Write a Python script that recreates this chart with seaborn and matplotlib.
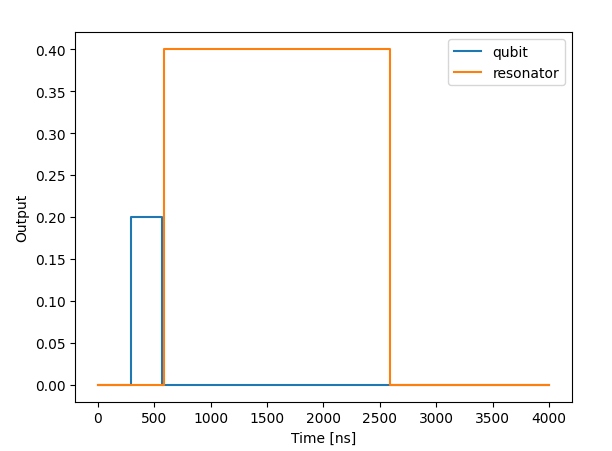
import matplotlib
matplotlib.use('Agg')
import matplotlib.pyplot as plt
import seaborn as sns
import pandas as pd

# step waveforms (time in ns, value held until next time)
qubit_t = [0, 295, 565, 4000]
qubit_v = [0.0, 0.2, 0.0, 0.0]
res_t = [0, 590, 2590, 4000]
res_v = [0.0, 0.4, 0.0, 0.0]

df = pd.concat([
    pd.DataFrame({'Time [ns]': qubit_t, 'Output': qubit_v, 'channel': 'qubit'}),
    pd.DataFrame({'Time [ns]': res_t, 'Output': res_v, 'channel': 'resonator'}),
])

fig = plt.figure(figsize=(6.12, 4.52), dpi=100)
ax = fig.add_axes([0.1230, 0.1091, 0.8111, 0.8173])
sns.lineplot(data=df, x='Time [ns]', y='Output', hue='channel',
             palette=['#1f77b4', '#ff7f0e'], drawstyle='steps-post',
             estimator=None, sort=False, ax=ax, linewidth=1.5)
ax.legend(title=None, loc='upper right')
ax.set_xlabel('Time [ns]')
ax.set_ylabel('Output')
ax.set_yticks([0, 0.05, 0.1, 0.15, 0.2, 0.25, 0.3, 0.35, 0.4])
ax.set_yticklabels([f'{v:.2f}' for v in ax.get_yticks()])
fig.savefig('out.png', dpi=100)
